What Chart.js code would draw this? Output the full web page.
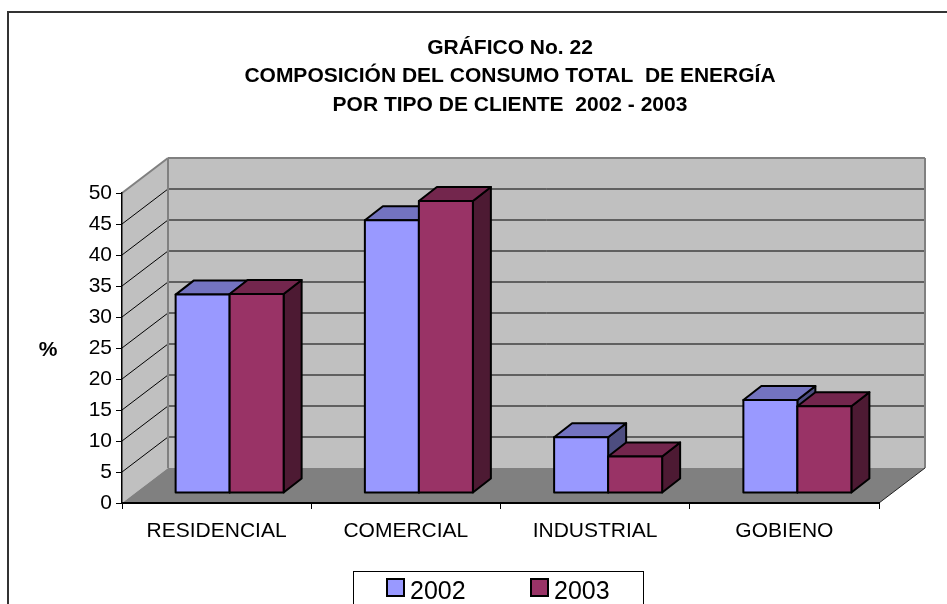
<!DOCTYPE html>
<html>
<head>
<meta charset="utf-8">
<title>Gráfico No. 22</title>
<script src="https://cdn.jsdelivr.net/npm/chart.js@4.4.1/dist/chart.umd.min.js"></script>
<style>
  html, body { margin: 0; padding: 0; background: #fff; }
  #wrap { width: 947px; height: 604px; position: relative; }
</style>
</head>
<body>
<div id="wrap"><canvas id="chart"></canvas></div>
<script>
// Data
const categories = ['RESIDENCIAL', 'COMERCIAL', 'INDUSTRIAL', 'GOBIENO'];
const seriesLabels = ['2002', '2003'];
const values2002 = [32, 44, 9, 15];
const values2003 = [32.1, 47.1, 5.9, 14];
const titleLines = [
    'GRÁFICO No. 22',
    'COMPOSICIÓN DEL CONSUMO TOTAL  DE ENERGÍA',
    'POR TIPO DE CLIENTE  2002 - 2003'
];
const yAxisTitle = '%';

// Look of the 3D frame (Excel style)
const FONT = "'Liberation Sans', Arial, sans-serif";
const WALL_DX = 46, WALL_DY = 35;   // depth of floor / side wall
const BAR_DX = 13, BAR_DY = 10;     // bars sit a bit behind the front edge
const BOX_DX = 18, BOX_DY = 14;     // depth of each bar
const WALL = '#c0c0c0', FLOOR = '#808080', EDGE = '#808080';

Chart.defaults.font.family = FONT;

function poly(ctx, pts, fill, stroke, lw) {
    ctx.beginPath();
    ctx.moveTo(pts[0][0], pts[0][1]);
    for (let i = 1; i < pts.length; i++) ctx.lineTo(pts[i][0], pts[i][1]);
    ctx.closePath();
    if (fill) { ctx.fillStyle = fill; ctx.fill(); }
    if (stroke) { ctx.strokeStyle = stroke; ctx.lineWidth = lw || 1; ctx.stroke(); }
}

function line(ctx, x1, y1, x2, y2, color, lw) {
    ctx.beginPath();
    ctx.moveTo(x1, y1);
    ctx.lineTo(x2, y2);
    ctx.strokeStyle = color;
    ctx.lineWidth = lw || 1;
    ctx.stroke();
}

const frame3d = {
    id: 'frame3d',
    beforeDraw(chart) {
        const ctx = chart.ctx;
        const { left, right, bottom } = chart.chartArea;
        const ys = chart.scales.y;
        const top = ys.getPixelForValue(ys.max);

        ctx.save();
        ctx.fillStyle = '#fff';
        ctx.fillRect(0, 0, chart.width, chart.height);

        // outer border of the chart object
        ctx.strokeStyle = '#333';
        ctx.lineWidth = 2;
        ctx.strokeRect(8, 12, chart.width + 20, chart.height + 20);

        // title
        ctx.fillStyle = '#000';
        ctx.font = 'bold 21px ' + FONT;
        ctx.textAlign = 'center';
        ctx.textBaseline = 'middle';
        titleLines.forEach((t, i) => ctx.fillText(t, 510, 48 + i * 28.5));

        // axis title
        ctx.fillText(yAxisTitle, 48, 350);

        // side wall
        poly(ctx, [[left, top], [left + WALL_DX, top - WALL_DY],
                   [left + WALL_DX, bottom - WALL_DY], [left, bottom]], WALL);
        // back wall
        ctx.fillStyle = WALL;
        ctx.fillRect(left + WALL_DX, top - WALL_DY, right - left, bottom - top);

        // gridlines on both walls
        ys.ticks.forEach(t => {
            if (t.value <= ys.min || t.value >= ys.max) return;
            const py = ys.getPixelForValue(t.value);
            line(ctx, left, py, left + WALL_DX, py - WALL_DY, '#000', 1);
            line(ctx, left + WALL_DX, py - WALL_DY, right + WALL_DX, py - WALL_DY, '#000', 1);
        });

        // wall edges
        line(ctx, left, top, left + WALL_DX, top - WALL_DY, EDGE, 2);
        line(ctx, left + WALL_DX, top - WALL_DY, right + WALL_DX, top - WALL_DY, EDGE, 2);
        line(ctx, left + WALL_DX, top - WALL_DY, left + WALL_DX, bottom - WALL_DY, EDGE, 2);
        line(ctx, right + WALL_DX, top - WALL_DY, right + WALL_DX, bottom - WALL_DY, EDGE, 2);

        // floor
        poly(ctx, [[left, bottom], [right, bottom],
                   [right + WALL_DX, bottom - WALL_DY], [left + WALL_DX, bottom - WALL_DY]], FLOOR);
        line(ctx, right, bottom, right + WALL_DX, bottom - WALL_DY, '#222', 1);
        ctx.restore();
    },
    beforeDatasetsDraw(chart) {
        const ctx = chart.ctx;
        ctx.save();
        ctx.lineJoin = 'round';
        chart.data.datasets.forEach((ds, di) => {
            const meta = chart.getDatasetMeta(di);
            meta.data.forEach(bar => {
                const x0 = bar.x - bar.width / 2 + BAR_DX;
                const x1 = bar.x + bar.width / 2 + BAR_DX;
                const yt = bar.y - BAR_DY;
                const yb = bar.base - BAR_DY;
                // side face
                poly(ctx, [[x1, yt], [x1 + BOX_DX, yt - BOX_DY], [x1 + BOX_DX, yb - BOX_DY], [x1, yb]],
                     ds.sideColor, '#000', 2);
                // top face
                poly(ctx, [[x0, yt], [x0 + BOX_DX, yt - BOX_DY], [x1 + BOX_DX, yt - BOX_DY], [x1, yt]],
                     ds.topColor, '#000', 2);
                // front face
                poly(ctx, [[x0, yt], [x1, yt], [x1, yb], [x0, yb]], ds.backgroundColor, '#000', 2);
            });
        });
        ctx.restore();
        return false;
    },
    afterDraw(chart) {
        // legend box
        const ctx = chart.ctx;
        ctx.save();
        ctx.strokeStyle = '#000';
        ctx.lineWidth = 1;
        ctx.strokeRect(353.5, 571.5, 290, 60);
        const xs = [387, 531];
        ctx.font = '25px ' + FONT;
        ctx.textAlign = 'left';
        ctx.textBaseline = 'middle';
        chart.data.datasets.forEach((ds, i) => {
            ctx.fillStyle = ds.backgroundColor;
            ctx.fillRect(xs[i], 579, 17, 17);
            ctx.strokeStyle = '#000';
            ctx.lineWidth = 2;
            ctx.strokeRect(xs[i], 579, 17, 17);
            ctx.fillStyle = '#000';
            ctx.fillText(ds.label, xs[i] + 23, 592);
        });
        ctx.restore();
    }
};

new Chart(document.getElementById('chart'), {
    type: 'bar',
    data: {
        labels: categories,
        datasets: [
            { label: seriesLabels[0], data: values2002, backgroundColor: '#9999ff',
              topColor: '#7373c0', sideColor: '#4d4d80' },
            { label: seriesLabels[1], data: values2003, backgroundColor: '#993366',
              topColor: '#73264d', sideColor: '#4d1a33' }
        ]
    },
    options: {
        responsive: true,
        maintainAspectRatio: false,
        animation: false,
        events: [],
        categoryPercentage: 0.5707,
        barPercentage: 1,
        layout: { padding: { top: 193, right: 68, left: 0, bottom: 0 } },
        plugins: {
            legend: { display: false },
            title: { display: false },
            tooltip: { enabled: false }
        },
        scales: {
            x: {
                grid: { drawOnChartArea: false, drawTicks: true, tickLength: 6, color: '#000', offset: true },
                border: { color: '#000', width: 2 },
                ticks: { color: '#000', font: { size: 21 }, padding: 10, maxRotation: 0, autoSkip: false },
                afterFit(scale) { scale.height = 101; }
            },
            y: {
                min: 0,
                max: 50,
                grid: { drawOnChartArea: false, drawTicks: true, tickLength: 6, color: '#000' },
                border: { color: '#000', width: 1.5 },
                ticks: { stepSize: 5, color: '#000', font: { size: 21 }, padding: 4 },
                afterFit(scale) { scale.width = 122; }
            }
        }
    },
    plugins: [frame3d]
});
</script>
</body>
</html>
